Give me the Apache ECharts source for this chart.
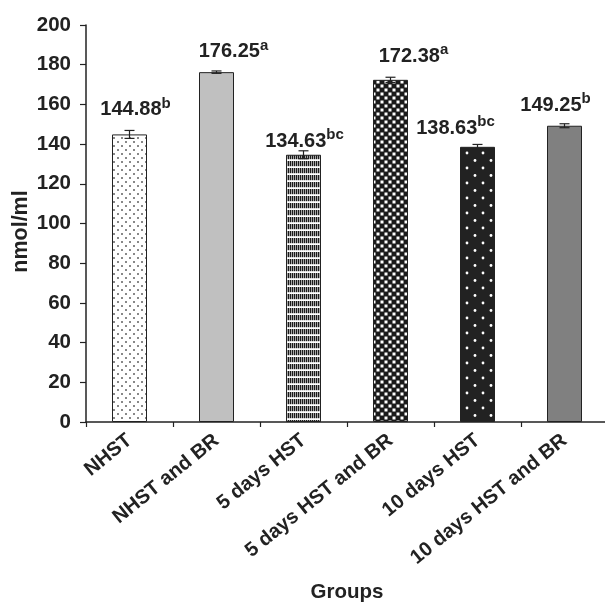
<!DOCTYPE html>
<html>
<head>
<meta charset="utf-8">
<script src="https://cdn.jsdelivr.net/npm/echarts@6/dist/echarts.min.js"></script>
<style>
html,body{margin:0;padding:0;background:#fff;}
#chart{width:605px;height:607px;}
</style>
</head>
<body>
<div id="chart"></div>
<script>
// ---- data ----
const categories = ['NHST', 'NHST and BR', '5 days HST', '5 days HST and BR', '10 days HST', '10 days HST and BR'];
const values = [144.88, 176.25, 134.63, 172.38, 138.63, 149.25];
const errors = [2.0, 0.6, 2.0, 1.3, 1.2, 1.0];
const superscripts = ['b', 'a', 'bc', 'a', 'bc', 'b'];
const yTicks = [0, 20, 40, 60, 80, 100, 120, 140, 160, 180, 200];

// ---- label nudges (style only) ----
const labelDx = [6, 17, 1, 23, -22, -9];
const labelGap = [19, 15, 8, 18, 13, 15];

// ---- patterns ----
function makeTile(w, h, draw) {
  const c = document.createElement('canvas');
  c.width = w; c.height = h;
  const ctx = c.getContext('2d');
  draw(ctx, w, h);
  return { image: c, repeat: 'repeat' };
}
const fills = [
  makeTile(8, 8, (ctx, w, h) => {
    ctx.fillStyle = '#fff'; ctx.fillRect(0, 0, w, h);
    ctx.fillStyle = '#888';
    ctx.fillRect(1, 1, 2, 2); ctx.fillRect(5, 5, 2, 2);
  }),
  '#c0c0c0',
  makeTile(2, 7, (ctx, w, h) => {
    ctx.fillStyle = '#fff'; ctx.fillRect(0, 0, w, h);
    ctx.fillStyle = '#1a1a1a';
    ctx.fillRect(0, 0, 1.4, 5.2);
  }),
  makeTile(8, 8, (ctx, w, h) => {
    ctx.fillStyle = '#1a1a1a'; ctx.fillRect(0, 0, w, h);
    ctx.fillStyle = '#fff';
    ctx.fillRect(0.5, 0.5, 3, 3); ctx.fillRect(4.5, 4.5, 3, 3);
  }),
  makeTile(16, 15, (ctx, w, h) => {
    ctx.fillStyle = '#222'; ctx.fillRect(0, 0, w, h);
    ctx.fillStyle = '#fff';
    ctx.beginPath(); ctx.arc(3, 3, 1.4, 0, Math.PI * 2); ctx.fill();
    ctx.beginPath(); ctx.arc(11, 10.5, 1.4, 0, Math.PI * 2); ctx.fill();
  }),
  '#808080'
];

const FONT = 'Liberation Sans, Arial, Helvetica, sans-serif';

const barData = values.map((v, i) => ({
  value: v,
  itemStyle: { color: fills[i] },
  label: { offset: [labelDx[i], -(labelGap[i] - 8)] }
}));

const chart = echarts.init(document.getElementById('chart'), null, { renderer: 'canvas' });
chart.setOption({
  animation: false,
  backgroundColor: '#fff',
  grid: { left: 86, right: -3, top: 25, bottom: 185, containLabel: false, outerBoundsMode: 'none' },
  xAxis: {
    type: 'category',
    data: categories,
    name: 'Groups',
    nameLocation: 'middle',
    nameGap: 160,
    nameMoveOverlap: false,
    nameTextStyle: { fontFamily: FONT, fontWeight: 'bold', fontSize: 20.5, color: '#222' },
    axisLine: { lineStyle: { color: '#222', width: 1.5 } },
    axisTick: { show: true, length: 5, lineStyle: { color: '#222', width: 1.2 } },
    axisLabel: { rotate: 39, margin: 16, fontFamily: FONT, fontWeight: 'bold', fontSize: 20, color: '#222', interval: 0 }
  },
  yAxis: {
    type: 'value',
    min: 0, max: 200, interval: 20,
    name: 'nmol/ml',
    nameLocation: 'middle',
    nameGap: 54,
    nameRotate: 90,
    nameMoveOverlap: false,
    nameTextStyle: { fontFamily: FONT, fontWeight: 'bold', fontSize: 21.5, color: '#222', padding: [0, 16, 0, 0] },
    splitLine: { show: false },
    axisLine: { show: true, lineStyle: { color: '#222', width: 1.5 } },
    axisTick: { show: true, length: 6, lineStyle: { color: '#222', width: 1.2 } },
    axisLabel: {
      margin: 15, fontFamily: FONT, fontWeight: 'bold', fontSize: 20.5, color: '#222',
      formatter: v => (yTicks.indexOf(v) >= 0 ? String(v) : '')
    }
  },
  series: [
    {
      type: 'bar',
      data: barData,
      barWidth: 35,
      itemStyle: { borderColor: '#222', borderWidth: 1 },
      label: {
        show: true,
        position: 'top',
        distance: 0,
        formatter: p => '{v|' + values[p.dataIndex].toFixed(2) + '}{s|' + superscripts[p.dataIndex] + '}',
        rich: {
          v: { fontFamily: FONT, fontWeight: 'bold', fontSize: 20, color: '#222' },
          s: { fontFamily: FONT, fontWeight: 'bold', fontSize: 15, color: '#222', padding: [0, 0, 12, 0] }
        }
      },
      z: 2
    },
    {
      type: 'custom',
      z: 3,
      data: values.map((v, i) => [i, v, errors[i]]),
      renderItem: (params, api) => {
        const x = api.value(0), v = api.value(1), e = api.value(2);
        const top = api.coord([x, v + e]);
        const bot = api.coord([x, v - e]);
        const hw = 5;
        const style = { stroke: '#222', lineWidth: 1.2 };
        return {
          type: 'group',
          children: [
            { type: 'line', shape: { x1: top[0], y1: top[1], x2: bot[0], y2: bot[1] }, style },
            { type: 'line', shape: { x1: top[0] - hw, y1: top[1], x2: top[0] + hw, y2: top[1] }, style },
            { type: 'line', shape: { x1: bot[0] - hw, y1: bot[1], x2: bot[0] + hw, y2: bot[1] }, style }
          ]
        };
      }
    }
  ]
});
</script>
</body>
</html>
